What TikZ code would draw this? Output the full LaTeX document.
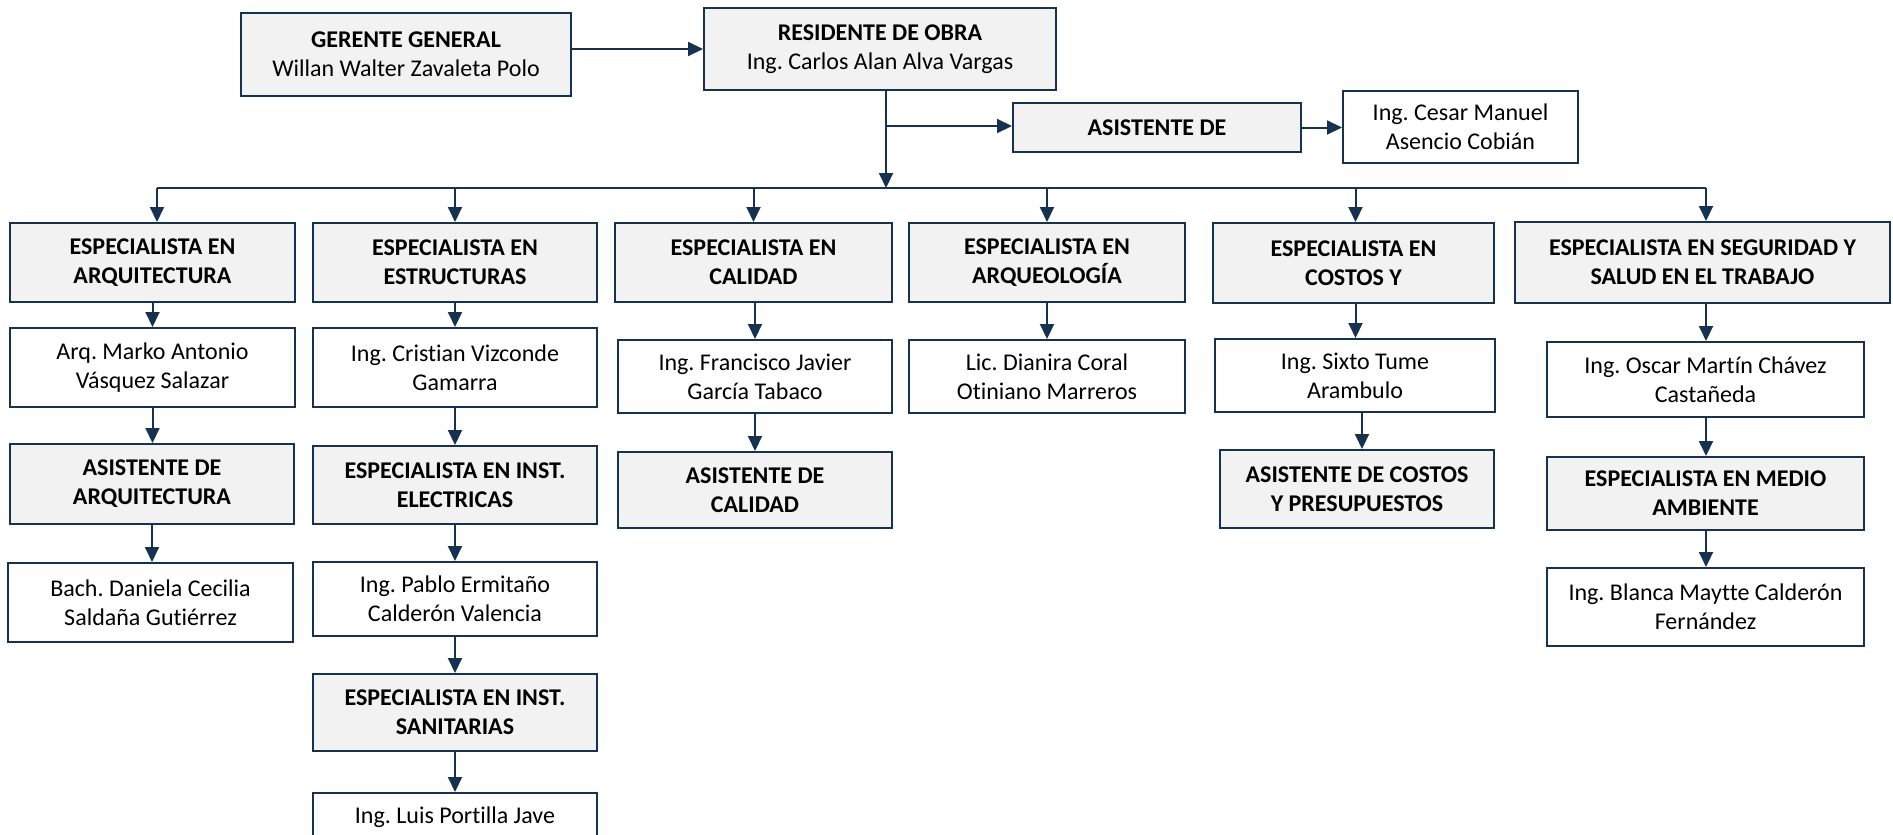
\documentclass[tikz,border=0pt]{standalone}
\usepackage{fontspec}
\setmainfont[Ligatures=NoCommon]{Carlito}
\usetikzlibrary{arrows.meta}
\definecolor{navy}{HTML}{17324F}
\definecolor{hdrfill}{HTML}{F2F2F2}
\frenchspacing
\begin{document}
\begin{tikzpicture}[x=1pt,y=-1pt,
  box/.style={draw=navy, line width=2pt, align=center, inner sep=0pt,
    font=\fontsize{24}{29}\selectfont\frenchspacing},
  hbox/.style={box, fill=hdrfill, font=\fontsize{24}{29}\selectfont\bfseries\frenchspacing},
  tbox/.style={box, fill=hdrfill},
  pbox/.style={box, fill=white},
  conn/.style={draw=navy, line width=2pt},
  arr/.style={conn, -{Triangle[width=14pt,length=15pt]}},
]
\useasboundingbox (0,0) rectangle (1893,835);

% top row
\node[tbox, minimum width=330pt, minimum height=83pt] (gg) at (406,54.5)
  {\textbf{GERENTE GENERAL}\\Willan Walter Zavaleta Polo};
\node[tbox, minimum width=352pt, minimum height=82pt] (res) at (880,49)
  {\textbf{RESIDENTE DE OBRA}\\Ing. Carlos Alan Alva Vargas};
\node[hbox, minimum width=288pt, minimum height=49pt] (asis) at (1157,127.5)
  {ASISTENTE DE};
\node[pbox, minimum width=235pt, minimum height=72pt] (ces) at (1460.5,127)
  {Ing. Cesar Manuel\\Asencio Cobián};

% column 1
\node[hbox, minimum width=285pt, minimum height=79pt] (a1) at (152.5,262.5)
  {ESPECIALISTA EN\\ARQUITECTURA};
\node[pbox, minimum width=285pt, minimum height=79pt] (a2) at (152.5,367.5)
  {Arq. Marko Antonio\\Vásquez Salazar};
\node[hbox, minimum width=284pt, minimum height=80pt] (a3) at (152,484)
  {ASISTENTE DE\\ARQUITECTURA};
\node[pbox, minimum width=285pt, minimum height=79pt] (a4) at (150.5,602.5)
  {Bach. Daniela Cecilia\\Saldaña Gutiérrez};

% column 2
\node[hbox, minimum width=284pt, minimum height=79pt] (e1) at (455,262.5)
  {ESPECIALISTA EN\\ESTRUCTURAS};
\node[pbox, minimum width=284pt, minimum height=79pt] (e2) at (455,367.5)
  {Ing. Cristian Vizconde\\Gamarra};
\node[hbox, minimum width=284pt, minimum height=78pt] (e3) at (455,485)
  {ESPECIALISTA EN INST.\\ELECTRICAS};
\node[pbox, minimum width=284pt, minimum height=74pt] (e4) at (455,599)
  {Ing. Pablo Ermitaño\\Calderón Valencia};
\node[hbox, minimum width=284pt, minimum height=77pt] (e5) at (455,712.5)
  {ESPECIALISTA EN INST.\\SANITARIAS};
\node[pbox, minimum width=284pt, minimum height=82pt, anchor=north] (e6) at (455,792)
  {Ing. Luis Portilla Jave\\\strut};

% column 3
\node[hbox, minimum width=277pt, minimum height=79pt] (c1) at (753.5,262.5)
  {ESPECIALISTA EN\\CALIDAD};
\node[pbox, minimum width=274pt, minimum height=73pt] (c2) at (755,376.5)
  {Ing. Francisco Javier\\García Tabaco};
\node[hbox, minimum width=274pt, minimum height=76pt] (c3) at (755,490)
  {ASISTENTE DE\\CALIDAD};

% column 4
\node[hbox, minimum width=276pt, minimum height=79pt] (q1) at (1047,262.5)
  {ESPECIALISTA EN\\ARQUEOLOGÍA};
\node[pbox, minimum width=276pt, minimum height=73pt] (q2) at (1047,376.5)
  {Lic. Dianira Coral\\Otiniano Marreros};

% column 5
\node[hbox, minimum width=281pt, minimum height=80pt] (k1) at (1353.5,263)
  {ESPECIALISTA EN\\COSTOS Y};
\node[pbox, minimum width=280pt, minimum height=73pt] (k2) at (1355,375.5)
  {Ing. Sixto Tume\\Arambulo};
\node[hbox, minimum width=274pt, minimum height=78pt] (k3) at (1357,489)
  {ASISTENTE DE COSTOS\\Y PRESUPUESTOS};

% column 6
\node[hbox, minimum width=375pt, minimum height=81pt] (s1) at (1702.5,262.5)
  {ESPECIALISTA EN SEGURIDAD Y\\SALUD EN EL TRABAJO};
\node[pbox, minimum width=317pt, minimum height=75pt] (s2) at (1705.5,379.5)
  {Ing. Oscar Martín Chávez\\Castañeda};
\node[hbox, minimum width=317pt, minimum height=73pt] (s3) at (1705.5,493.5)
  {ESPECIALISTA EN MEDIO\\AMBIENTE};
\node[pbox, minimum width=317pt, minimum height=78pt] (s4) at (1705.5,607)
  {Ing. Blanca Maytte Calderón\\Fernández};

% connectors top
\coordinate (busc) at (886,188);
\coordinate (br) at (886,126);
\draw[arr] (gg.east |- res.west) -- (res.west);
\draw[arr] (res.south -| busc) -- (busc);
\draw[arr] (br) -- (br -| asis.west);
\draw[arr] (asis.east) -- (asis.east -| ces.west);

% bus
\coordinate (busL) at (157,188);
\coordinate (busR) at (1706,188);
\draw[conn] (busL) -- (busR);
\draw[arr] (busL) -- (busL |- a1.north);
\draw[arr] (e1.north |- busc) -- (e1.north);
\draw[arr] (c1.north |- busc) -- (c1.north);
\draw[arr] (q1.north |- busc) -- (q1.north);
\draw[arr] ([xshift=2pt]k1.north |- busc) -- ([xshift=2pt]k1.north);
\draw[arr] (busR) -- (busR |- s1.north);

% column connectors
\draw[arr] (a1.south) -- (a1.south |- a2.north);
\draw[arr] (a2.south) -- (a2.south |- a3.north);
\draw[arr] (a3.south) -- (a3.south |- a4.north);
\draw[arr] (e1.south) -- (e2.north);
\draw[arr] (e2.south) -- (e3.north);
\draw[arr] (e3.south) -- (e4.north);
\draw[arr] (e4.south) -- (e5.north);
\draw[arr] (e5.south) -- (e6.north);
\draw[arr] (c1.south -| c2.north) -- (c2.north);
\draw[arr] (c2.south) -- (c3.north);
\draw[arr] (q1.south) -- (q2.north);
\draw[arr] ([xshift=2pt]k1.south) -- ([xshift=2pt]k1.south |- k2.north);
\draw[arr] ([xshift=7pt]k2.south) -- ([xshift=7pt]k2.south |- k3.north);
\draw[arr] (busR |- s1.south) -- (busR |- s2.north);
\draw[arr] (busR |- s2.south) -- (busR |- s3.north);
\draw[arr] (busR |- s3.south) -- (busR |- s4.north);
\end{tikzpicture}
\end{document}
